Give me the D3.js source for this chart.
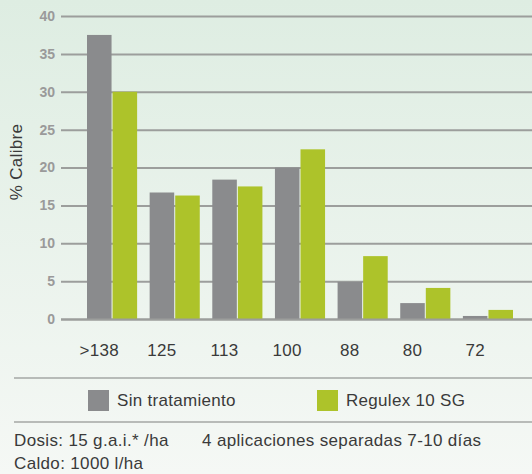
<!DOCTYPE html>
<html>
<head>
<meta charset="utf-8">
<script src="https://cdn.jsdelivr.net/npm/d3@7"></script>
<style>
  body { margin: 0; padding: 0; }
  svg { display: block; font-family: "Liberation Sans", Arial, Helvetica, sans-serif; }
</style>
</head>
<body>
<div id="chart"></div>
<script>
// data
var categories = [">138", "125", "113", "100", "88", "80", "72"];
var seriesNames = ["Sin tratamiento", "Regulex 10 SG"];
var sinTratamiento = [37.5, 16.7, 18.4, 20.0, 4.9, 2.1, 0.4];
var regulex = [30.0, 16.3, 17.5, 22.4, 8.3, 4.1, 1.2];
var yTicks = [0, 5, 10, 15, 20, 25, 30, 35, 40];
var notes = ["Dosis: 15 g.a.i.* /ha", "4 aplicaciones separadas 7-10 días", "Caldo: 1000 l/ha"];

var colors = ["#8a8b8d", "#adc32a"];

var svgWidth = 532;
var svgHeight = 474;

var svg = d3.select("#chart")
  .append("svg")
  .attr("width", svgWidth)
  .attr("height", svgHeight);

// background gradient
var grad = svg.append("defs").append("linearGradient")
  .attr("id", "bg")
  .attr("x1", 0).attr("y1", 0).attr("x2", 0).attr("y2", 1);
grad.append("stop").attr("offset", "0%").attr("stop-color", "#deede2");
grad.append("stop").attr("offset", "100%").attr("stop-color", "#f5f8f5");

svg.append("rect")
  .attr("width", svgWidth)
  .attr("height", svgHeight)
  .attr("fill", "url(#bg)");

// scales
var yScale = d3.scaleLinear()
  .domain([0, 40])
  .range([319, 16]);

var x0 = d3.scaleBand()
  .domain(categories)
  .range([87, 513])
  .paddingInner(0.2)
  .paddingOuter(0);

var x1 = d3.scaleBand()
  .domain(seriesNames)
  .range([0, x0.bandwidth()])
  .paddingInner(0.04);

// gridlines + y labels
var yAxis = d3.axisLeft(yScale)
  .tickValues(yTicks)
  .tickSize(-(svgWidth - 61))
  .tickPadding(6);

var yAxisG = svg.append("g")
  .attr("transform", "translate(61,0)")
  .call(yAxis);

yAxisG.select(".domain").remove();
yAxisG.selectAll(".tick line")
  .attr("stroke", "#9c9e9c")
  .attr("stroke-width", 2);
yAxisG.selectAll(".tick text")
  .attr("fill", "#9a9a9a")
  .attr("font-size", "14px")
  .attr("font-weight", "bold")
  .attr("font-family", "'Liberation Sans', Arial, sans-serif");

// bars
var rows = categories.map(function(c, i) {
  return { cat: c, values: [sinTratamiento[i], regulex[i]] };
});

var groups = svg.append("g").selectAll("g")
  .data(rows)
  .enter()
  .append("g")
  .attr("transform", d => `translate(${x0(d.cat)},0)`);

groups.selectAll("rect")
  .data(d => d.values.map((v, j) => ({ name: seriesNames[j], value: v, j: j })))
  .enter()
  .append("rect")
  .attr("x", d => x1(d.name))
  .attr("y", d => yScale(d.value))
  .attr("width", x1.bandwidth())
  .attr("height", d => yScale(0) - yScale(d.value))
  .attr("fill", d => colors[d.j]);

// zero baseline on top of bars
svg.append("line")
  .attr("x1", 61).attr("x2", svgWidth)
  .attr("y1", yScale(0) + 0.5).attr("y2", yScale(0) + 0.5)
  .attr("stroke", "#9c9e9c")
  .attr("stroke-width", 2);

// x labels, centred under the grey bar
svg.append("g").selectAll("text")
  .data(categories)
  .enter()
  .append("text")
  .attr("x", d => x0(d) + x1(seriesNames[0]) + x1.bandwidth() / 2)
  .attr("y", 356)
  .attr("text-anchor", "middle")
  .attr("font-size", "17px")
  .attr("letter-spacing", "0.3px")
  .attr("fill", "#3a3a3a")
  .text(d => d);

// y title
svg.append("text")
  .attr("transform", "translate(22,162) rotate(-90)")
  .attr("text-anchor", "middle")
  .attr("font-size", "17px")
  .attr("letter-spacing", "0.3px")
  .attr("fill", "#3a3a3a")
  .text("% Calibre");

// legend box lines
[378, 422].forEach(function(y) {
  svg.append("line")
    .attr("x1", 14).attr("x2", svgWidth)
    .attr("y1", y).attr("y2", y)
    .attr("stroke", "#a5a7a5")
    .attr("stroke-width", 1.5);
});

var legendX = [88, 317];
var legend = svg.append("g").selectAll("g")
  .data(seriesNames)
  .enter()
  .append("g")
  .attr("transform", (d, i) => `translate(${legendX[i]},390)`);

legend.append("rect")
  .attr("width", 21)
  .attr("height", 21)
  .attr("fill", (d, i) => colors[i]);

legend.append("text")
  .attr("x", 29)
  .attr("y", 16)
  .attr("font-size", "17px")
  .attr("letter-spacing", "0.3px")
  .attr("fill", "#3a3a3a")
  .text(d => d);

// notes under legend
var noteG = svg.append("g")
  .attr("font-size", "17px")
  .attr("letter-spacing", "0.35px")
  .attr("fill", "#3a3a3a");
noteG.append("text").attr("x", 14).attr("y", 446).text(notes[0]);
noteG.append("text").attr("x", 202).attr("y", 446).text(notes[1]);
noteG.append("text").attr("x", 14).attr("y", 469).text(notes[2]);
</script>
</body>
</html>
